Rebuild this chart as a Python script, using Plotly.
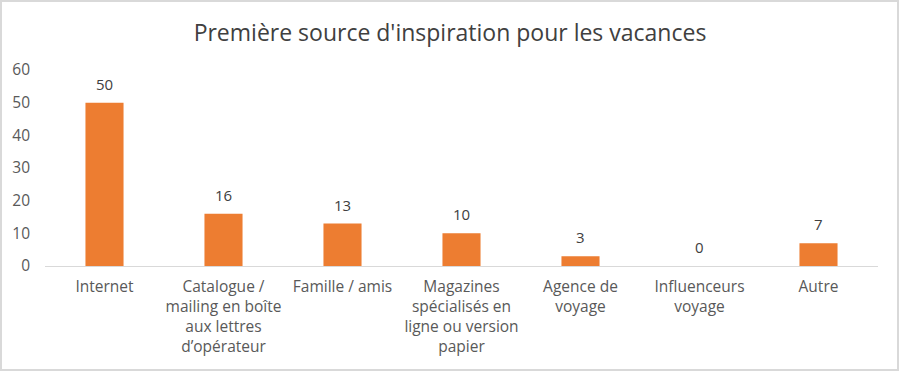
import plotly.graph_objects as go

categories = ["Internet", "Catalogue /<br>mailing en boîte<br>aux lettres<br>d’opérateur", "Famille / amis",
              "Magazines<br>spécialisés en<br>ligne ou version<br>papier", "Agence de<br>voyage",
              "Influenceurs<br>voyage", "Autre"]
values = [50, 16, 13, 10, 3, 0, 7]
y_ticks = [0, 10, 20, 30, 40, 50, 60]

font_family = "Open Sans, Liberation Sans, sans-serif"

fig = go.Figure(go.Bar(
    x=categories, y=values,
    marker=dict(color="#ED7D31", line=dict(width=0)),
    width=0.32,
))

for c, v in zip(categories, values):
    fig.add_annotation(x=c, y=v, text=str(v), showarrow=False, yanchor="middle",
                       yshift=19, font=dict(family=font_family, size=15, color="#404040"))

fig.update_layout(
    width=900, height=372,
    margin=dict(l=45, r=22, t=70, b=106),
    paper_bgcolor="white", plot_bgcolor="white",
    title=dict(text="Première source d'inspiration pour les vacances", x=0.5, xanchor="center",
               y=1 - 33/372, yanchor="middle",
               font=dict(family=font_family, size=23, color="#404040")),
    showlegend=False,
)
fig.update_xaxes(showline=True, linecolor="#D9D9D9", linewidth=1, ticks="",
                 tickfont=dict(family=font_family, size=15.5, color="#595959"),
                 showgrid=False, ticklabelstandoff=6)
fig.update_yaxes(range=[0, 60], tickvals=y_ticks, showgrid=False, zeroline=False,
                 showline=False, ticks="",
                 tickfont=dict(family=font_family, size=15.5, color="#595959"),
                 ticklabelstandoff=14)

fig.add_shape(type="rect", xref="paper", yref="paper",
              x0=(1 - 45)/833, x1=(898 - 45)/833, y0=(266 - 370)/196, y1=(266 - 1)/196,
              line=dict(color="#D9D9D9", width=2), fillcolor="rgba(0,0,0,0)")

fig.write_html("out.html", config={"displayModeBar": False},
               post_script="document.body.style.margin='0';document.body.style.padding='0';")
